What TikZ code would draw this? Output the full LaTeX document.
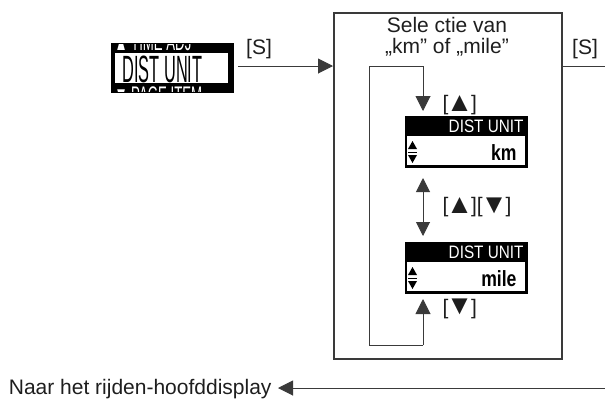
\documentclass[tikz,border=0pt]{standalone}
\usepackage{fontspec}
\setmainfont{Liberation Sans}
\usetikzlibrary{arrows.meta, positioning, calc}
\definecolor{cline}{HTML}{3A3A3A}
\definecolor{ctext}{HTML}{1E1E1E}
\tikzset{
  every picture/.style={line width=1pt},
  lbl/.style={font=\fontsize{21}{20.5}\selectfont, text=ctext, inner sep=0pt},
  flow/.style={-{Triangle[length=15pt, width=15pt]}, draw=cline, line width=1pt},
  twoway/.style={{Triangle[length=14pt, width=14pt]}-{Triangle[length=14pt, width=14pt]}, draw=cline, line width=1pt},
  plain/.style={draw=cline, line width=1pt},
  selframe/.style={draw=cline, line width=1.6pt, inner sep=0pt},
  lcdbody/.style={fill=black, inner sep=0pt, minimum width=123pt, minimum height=52pt},
  lcdhead/.style={text=white, inner sep=0pt, font=\fontsize{18}{18}\selectfont},
  lcdval/.style={inner sep=0pt, font=\fontsize{22}{22}\selectfont\bfseries},
  menutext/.style={text=white, inner sep=0pt, font=\fontsize{24}{24}\selectfont},
  menubig/.style={inner sep=0pt, font=\fontsize{38}{38}\selectfont},
}
\newcommand{\keyup}{\kern-0.1em\raisebox{-0.02em}{\scalebox{1.3}{▲}}\kern-0.1em}
\newcommand{\keydown}{\kern-0.1em\raisebox{-0.02em}{\scalebox{1.3}{▼}}\kern-0.1em}
% one display: name, x, y (top left), value
\newcommand{\lcdunit}[4]{
  \node[lcdbody, anchor=north west] (#1) at (#2,#3) {};
  \fill[white] ($(#1.north west)+(3,21)$) rectangle ($(#1.south east)+(-3,-3)$);
  \node[lcdhead, anchor=base east] at ($(#1.north east)+(-4,17)$) {\scalebox{0.85}[1]{DIST UNIT}};
  \node[lcdval, anchor=base east] at ($(#1.south east)+(-11,-8)$) {\scalebox{0.8}[1]{#4}};
  \fill ($(#1.south west)+(4,-19)$) -- ++(9,0) -- ++(-4.5,-8) -- cycle;
  \draw[line width=0.7pt] ($(#1.south west)+(4,-16)$) -- ++(9,0);
  \fill ($(#1.south west)+(4,-13)$) -- ++(9,0) -- ++(-4.5,8) -- cycle;}

\begin{document}
\begin{tikzpicture}[x=1pt, y=-1pt]
  \useasboundingbox (0,0) rectangle (605,400);

  % menu display
  \node[lcdbody, minimum height=50pt, anchor=north west] (lcdmenu) at (110,42) {};
  \fill[white] (115,53) rectangle (228,83);
  \begin{scope}
    \clip (110,44) rectangle (233,53);
    \node[menutext, anchor=base west] at (114,50) {\scalebox{0.55}[1]{▲ TIME ADJ}};
  \end{scope}
  \begin{scope}
    \clip (110,83) rectangle (233,91);
    \node[menutext, anchor=base west] at (114,103) {\scalebox{0.55}[1]{▼ PAGE ITEM}};
  \end{scope}
  \node[menubig, anchor=base west] (menuitem) at (122,82) {\scalebox{0.43}[1]{DIST UNIT}};

  % selection frame
  \node[selframe, minimum width=228pt, minimum height=346pt, anchor=north west] (selbox) at (333,12) {};
  \node[lbl, align=center, anchor=north] (seltitle) at (447,17) {Sele ctie van\\„km” of „mile”};

  \lcdunit{lcdkm}{404}{115}{km}
  \lcdunit{lcdmile}{404}{241}{mile}

  % keys
  \node[lbl] (sin) at (259,49) {[S]};
  \node[lbl] (sout) at (585,49) {[S]};
  \node[lbl, anchor=west] (kup) at (442,105) {[\keyup]};
  \node[lbl, anchor=west] (kboth) at (442,207) {[\keyup][\keydown]};
  \node[lbl, anchor=west] (kdown) at (442,309) {[\keydown]};

  \node[lbl, anchor=base east] (maindisp) at (272,394) {Naar het rijden-hoofddisplay};

  \coordinate (lpbot) at (423,345);
  \coordinate (lptop) at (369,66);
  \coordinate (naarS) at (605,66);
  \coordinate (retour) at (605,388);

  % connectors
  \draw[flow, shorten <=4pt] (lcdmenu.east |- lptop) -- (selbox.west |- lptop);
  \draw[plain] (selbox.east |- naarS) -- (naarS);
  \draw[flow, shorten >=4pt] (lpbot) -| (lptop) -| (lcdkm.north -| lpbot);
  \draw[twoway, shorten <=10pt, shorten >=5pt] (lcdkm.south -| lpbot) -- (lcdmile.north -| lpbot);
  \draw[flow, shorten >=5pt] (lpbot) -- (lcdmile.south -| lpbot);
  \draw[flow, shorten >=6pt] (retour) -- (maindisp.east |- retour);
\end{tikzpicture}
\end{document}
